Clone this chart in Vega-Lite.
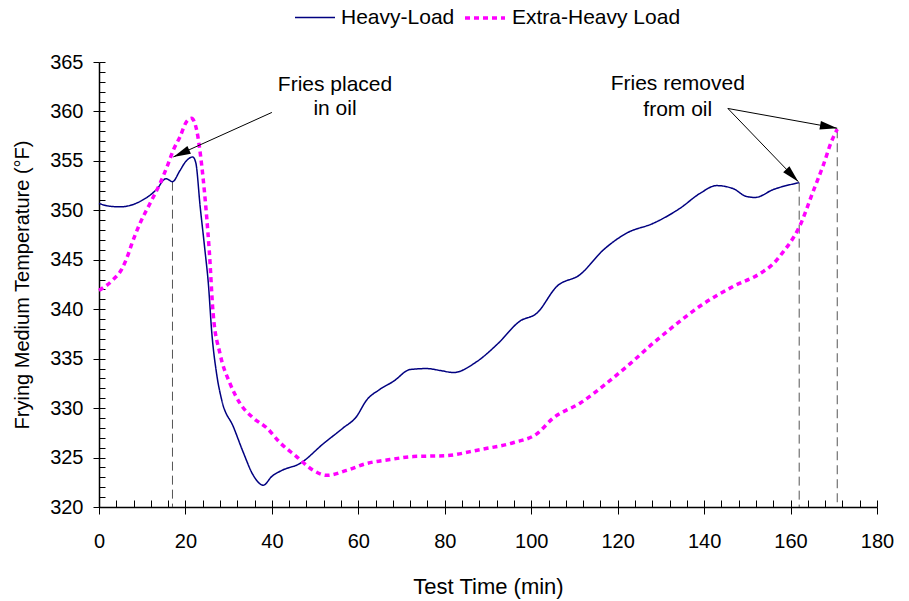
{
  "$schema": "https://vega.github.io/schema/vega-lite/v6.json",
  "width": 778,
  "height": 445,
  "autosize": {"type": "none"},
  "padding": {"left": 99, "top": 62, "right": 32, "bottom": 94},
  "background": "white",
  "config": {
    "view": {"stroke": null},
    "font": "Liberation Sans",
    "axis": {
      "labelFont": "Liberation Sans",
      "titleFont": "Liberation Sans",
      "labelColor": "black",
      "titleColor": "black",
      "titleFontWeight": "normal",
      "labelFontSize": 20,
      "titleFontSize": 20,
      "grid": false,
      "labelFlush": false,
      "labelOverlap": false,
      "tickColor": "black",
      "domainColor": "black"
    },
    "legend": {
      "labelFont": "Liberation Sans",
      "labelFontSize": 21,
      "labelColor": "black",
      "labelLimit": 0
    }
  },
  "datasets": {
    "curves": [
      {"series": "Heavy-Load", "t": 0, "temp": 350.7},
      {"series": "Heavy-Load", "t": 2, "temp": 350.45},
      {"series": "Heavy-Load", "t": 4.9, "temp": 350.35},
      {"series": "Heavy-Load", "t": 9.5, "temp": 350.9},
      {"series": "Heavy-Load", "t": 13.3, "temp": 352.1},
      {"series": "Heavy-Load", "t": 15.5, "temp": 353.2},
      {"series": "Heavy-Load", "t": 17, "temp": 352.9},
      {"series": "Heavy-Load", "t": 18.7, "temp": 354.0},
      {"series": "Heavy-Load", "t": 20, "temp": 354.9},
      {"series": "Heavy-Load", "t": 21, "temp": 355.3},
      {"series": "Heavy-Load", "t": 21.7, "temp": 355.4},
      {"series": "Heavy-Load", "t": 22.4, "temp": 354.8},
      {"series": "Heavy-Load", "t": 23.4, "temp": 350.4},
      {"series": "Heavy-Load", "t": 24.5, "temp": 346.0},
      {"series": "Heavy-Load", "t": 25.3, "temp": 342.6},
      {"series": "Heavy-Load", "t": 26.1, "temp": 337.6},
      {"series": "Heavy-Load", "t": 27.2, "temp": 333.5},
      {"series": "Heavy-Load", "t": 28.4, "temp": 330.8},
      {"series": "Heavy-Load", "t": 31.1, "temp": 328.1},
      {"series": "Heavy-Load", "t": 33.4, "temp": 325.5},
      {"series": "Heavy-Load", "t": 35.7, "temp": 323.2},
      {"series": "Heavy-Load", "t": 38, "temp": 322.2},
      {"series": "Heavy-Load", "t": 40, "temp": 323.1},
      {"series": "Heavy-Load", "t": 42.3, "temp": 323.7},
      {"series": "Heavy-Load", "t": 46.5, "temp": 324.4},
      {"series": "Heavy-Load", "t": 51.9, "temp": 326.4},
      {"series": "Heavy-Load", "t": 56.5, "temp": 328.0},
      {"series": "Heavy-Load", "t": 59.5, "temp": 329.1},
      {"series": "Heavy-Load", "t": 61.9, "temp": 330.8},
      {"series": "Heavy-Load", "t": 65, "temp": 331.9},
      {"series": "Heavy-Load", "t": 68.1, "temp": 332.7},
      {"series": "Heavy-Load", "t": 72, "temp": 333.9},
      {"series": "Heavy-Load", "t": 75.8, "temp": 334.0},
      {"series": "Heavy-Load", "t": 79, "temp": 333.8},
      {"series": "Heavy-Load", "t": 82, "temp": 333.6},
      {"series": "Heavy-Load", "t": 87.4, "temp": 334.7},
      {"series": "Heavy-Load", "t": 92, "temp": 336.4},
      {"series": "Heavy-Load", "t": 97.4, "temp": 338.8},
      {"series": "Heavy-Load", "t": 101.3, "temp": 339.6},
      {"series": "Heavy-Load", "t": 105.9, "temp": 342.3},
      {"series": "Heavy-Load", "t": 111.3, "temp": 343.5},
      {"series": "Heavy-Load", "t": 116.7, "temp": 346.0},
      {"series": "Heavy-Load", "t": 122.1, "temp": 347.7},
      {"series": "Heavy-Load", "t": 128.3, "temp": 348.7},
      {"series": "Heavy-Load", "t": 134.4, "temp": 350.2},
      {"series": "Heavy-Load", "t": 139, "temp": 351.7},
      {"series": "Heavy-Load", "t": 142.9, "temp": 352.5},
      {"series": "Heavy-Load", "t": 146.7, "temp": 352.2},
      {"series": "Heavy-Load", "t": 149.8, "temp": 351.4},
      {"series": "Heavy-Load", "t": 151.8, "temp": 351.3},
      {"series": "Heavy-Load", "t": 156, "temp": 352.1},
      {"series": "Heavy-Load", "t": 162, "temp": 352.8},
      {"series": "Extra-Heavy Load", "t": 0, "temp": 341.9},
      {"series": "Extra-Heavy Load", "t": 3.3, "temp": 343.0},
      {"series": "Extra-Heavy Load", "t": 5.2, "temp": 344.0},
      {"series": "Extra-Heavy Load", "t": 6.8, "temp": 345.6},
      {"series": "Extra-Heavy Load", "t": 7.5, "temp": 346.5},
      {"series": "Extra-Heavy Load", "t": 9.5, "temp": 348.7},
      {"series": "Extra-Heavy Load", "t": 11.8, "temp": 350.7},
      {"series": "Extra-Heavy Load", "t": 14.1, "temp": 352.7},
      {"series": "Extra-Heavy Load", "t": 16, "temp": 354.7},
      {"series": "Extra-Heavy Load", "t": 17.2, "temp": 356.1},
      {"series": "Extra-Heavy Load", "t": 18.7, "temp": 357.4},
      {"series": "Extra-Heavy Load", "t": 20.3, "temp": 359.0},
      {"series": "Extra-Heavy Load", "t": 21.4, "temp": 359.3},
      {"series": "Extra-Heavy Load", "t": 22.6, "temp": 358.1},
      {"series": "Extra-Heavy Load", "t": 23.8, "temp": 354.4},
      {"series": "Extra-Heavy Load", "t": 24.9, "temp": 349.4},
      {"series": "Extra-Heavy Load", "t": 25.5, "temp": 346.0},
      {"series": "Extra-Heavy Load", "t": 26.4, "temp": 339.6},
      {"series": "Extra-Heavy Load", "t": 28, "temp": 335.5},
      {"series": "Extra-Heavy Load", "t": 30.3, "temp": 332.5},
      {"series": "Extra-Heavy Load", "t": 32.6, "temp": 330.5},
      {"series": "Extra-Heavy Load", "t": 35.7, "temp": 329.0},
      {"series": "Extra-Heavy Load", "t": 38.8, "temp": 328.0},
      {"series": "Extra-Heavy Load", "t": 41.9, "temp": 326.5},
      {"series": "Extra-Heavy Load", "t": 45.7, "temp": 325.1},
      {"series": "Extra-Heavy Load", "t": 49.6, "temp": 323.7},
      {"series": "Extra-Heavy Load", "t": 52.7, "temp": 323.2},
      {"series": "Extra-Heavy Load", "t": 57.3, "temp": 323.7},
      {"series": "Extra-Heavy Load", "t": 61.9, "temp": 324.4},
      {"series": "Extra-Heavy Load", "t": 67.3, "temp": 324.8},
      {"series": "Extra-Heavy Load", "t": 72.7, "temp": 325.1},
      {"series": "Extra-Heavy Load", "t": 80.4, "temp": 325.2},
      {"series": "Extra-Heavy Load", "t": 88.1, "temp": 325.8},
      {"series": "Extra-Heavy Load", "t": 95.8, "temp": 326.5},
      {"series": "Extra-Heavy Load", "t": 101.3, "temp": 327.4},
      {"series": "Extra-Heavy Load", "t": 105.1, "temp": 329.0},
      {"series": "Extra-Heavy Load", "t": 111.3, "temp": 330.5},
      {"series": "Extra-Heavy Load", "t": 117.4, "temp": 332.5},
      {"series": "Extra-Heavy Load", "t": 122.9, "temp": 334.5},
      {"series": "Extra-Heavy Load", "t": 128.3, "temp": 336.6},
      {"series": "Extra-Heavy Load", "t": 133.3, "temp": 338.4},
      {"series": "Extra-Heavy Load", "t": 139, "temp": 340.3},
      {"series": "Extra-Heavy Load", "t": 146.7, "temp": 342.3},
      {"series": "Extra-Heavy Load", "t": 152.9, "temp": 343.6},
      {"series": "Extra-Heavy Load", "t": 156, "temp": 344.6},
      {"series": "Extra-Heavy Load", "t": 158.3, "temp": 345.8},
      {"series": "Extra-Heavy Load", "t": 160.6, "temp": 347.2},
      {"series": "Extra-Heavy Load", "t": 162, "temp": 348.3},
      {"series": "Extra-Heavy Load", "t": 165.3, "temp": 352.0},
      {"series": "Extra-Heavy Load", "t": 167.6, "temp": 354.6},
      {"series": "Extra-Heavy Load", "t": 169.5, "temp": 357.0},
      {"series": "Extra-Heavy Load", "t": 170.8, "temp": 358.2}
    ],
    "markers": [
      {"t": 17, "temp": 352.9},
      {"t": 162, "temp": 352.8},
      {"t": 170.8, "temp": 358.2}
    ],
    "arrows": [
      {"id": "placed", "t0": 40, "v0": 359.9, "t1": 17.2, "v1": 355.4},
      {"id": "removed1", "t0": 145.5, "v0": 360.3, "t1": 161.8, "v1": 352.9},
      {"id": "removed2", "t0": 145.5, "v0": 360.3, "t1": 170.8, "v1": 358.3}
    ],
    "notes": [
      {"label": "Fries placed", "t": 54.6, "temp": 362.7},
      {"label": "in oil", "t": 54.6, "temp": 360.2},
      {"label": "Fries removed", "t": 133.9, "temp": 362.8},
      {"label": "from oil", "t": 133.9, "temp": 360.1}
    ]
  },
  "layer": [
    {
      "data": {"name": "markers"},
      "mark": {"type": "rule", "color": "#555555", "strokeDash": [9, 5], "strokeWidth": 1},
      "encoding": {
        "x": {
          "field": "t", "type": "quantitative",
          "axis": {
            "orient": "bottom",
            "values": [0,4,8,12,16,20,24,28,32,36,40,44,48,52,56,60,64,68,72,76,80,84,88,92,96,100,104,108,112,116,120,124,128,132,136,140,144,148,152,156,160,164,168,172,176,180],
            "tickSize": -7, "labels": false, "domain": false, "title": null, "tickWidth": 1
          }
        },
        "y": {
          "field": "temp", "type": "quantitative",
          "axis": {
            "orient": "left",
            "values": [320,321,322,323,324,325,326,327,328,329,330,331,332,333,334,335,336,337,338,339,340,341,342,343,344,345,346,347,348,349,350,351,352,353,354,355,356,357,358,359,360,361,362,363,364,365],
            "tickSize": -6, "labels": false, "domain": false, "title": null, "tickWidth": 1
          }
        },
        "y2": {"datum": 320}
      }
    },
    {
      "data": {"name": "curves"},
      "mark": {"type": "line", "interpolate": "monotone"},
      "encoding": {
        "x": {
          "field": "t", "type": "quantitative",
          "scale": {"domain": [0, 180], "nice": false, "zero": false},
          "axis": {
            "orient": "bottom",
            "values": [0,20,40,60,80,100,120,140,160,180],
            "tickSize": 7, "tickWidth": 1, "domainWidth": 1.5,
            "labelPadding": 17, "title": "Test Time (min)", "titleFontSize": 22, "titlePadding": 25
          }
        },
        "y": {
          "field": "temp", "type": "quantitative",
          "scale": {"domain": [320, 365], "nice": false, "zero": false},
          "axis": {
            "orient": "left",
            "values": [320,325,330,335,340,345,350,355,360,365],
            "tickSize": 6, "tickWidth": 1, "domainWidth": 1.5,
            "labelPadding": 10, "title": "Frying Medium Temperature (°F)", "titlePadding": 17
          }
        },
        "color": {
          "field": "series", "type": "nominal",
          "scale": {"domain": ["Heavy-Load", "Extra-Heavy Load"], "range": ["#000080", "#FF00FF"]},
          "legend": {
            "title": null, "orient": "none", "direction": "horizontal",
            "legendX": 195, "legendY": -66, "symbolType": "stroke", "symbolSize": 1600,
            "labelOffset": 5, "columnPadding": 3, "padding": 0
          }
        },
        "strokeDash": {
          "field": "series", "type": "nominal",
          "scale": {"domain": ["Heavy-Load", "Extra-Heavy Load"], "range": [[1, 0], [5, 4]]},
          "legend": {
            "title": null, "orient": "none", "direction": "horizontal",
            "legendX": 195, "legendY": -66, "symbolType": "stroke", "symbolSize": 1600,
            "labelOffset": 5, "columnPadding": 3, "padding": 0
          }
        },
        "strokeWidth": {
          "field": "series", "type": "nominal",
          "scale": {"type": "ordinal", "domain": ["Heavy-Load", "Extra-Heavy Load"], "range": [1.5, 3.5]},
          "legend": {
            "title": null, "orient": "none", "direction": "horizontal",
            "legendX": 195, "legendY": -66, "symbolType": "stroke", "symbolSize": 1600,
            "labelOffset": 5, "columnPadding": 3, "padding": 0
          }
        }
      }
    },
    {
      "data": {"name": "arrows"},
      "mark": {"type": "rule", "color": "black", "strokeWidth": 1},
      "encoding": {
        "x": {"field": "t0", "type": "quantitative", "axis": null},
        "y": {"field": "v0", "type": "quantitative", "axis": null},
        "x2": {"field": "t1"},
        "y2": {"field": "v1"}
      }
    },
    {
      "data": {"name": "arrows"},
      "transform": [{"filter": "datum.id === 'placed'"}],
      "mark": {"type": "point", "shape": "M0,0L-0.5,2L0.5,2Z", "filled": true, "color": "black", "size": 300, "angle": 246, "opacity": 1},
      "encoding": {
        "x": {"field": "t1", "type": "quantitative", "axis": null},
        "y": {"field": "v1", "type": "quantitative", "axis": null}
      }
    },
    {
      "data": {"name": "arrows"},
      "transform": [{"filter": "datum.id === 'removed1'"}],
      "mark": {"type": "point", "shape": "M0,0L-0.5,2L0.5,2Z", "filled": true, "color": "black", "size": 300, "angle": 136, "opacity": 1},
      "encoding": {
        "x": {"field": "t1", "type": "quantitative", "axis": null},
        "y": {"field": "v1", "type": "quantitative", "axis": null}
      }
    },
    {
      "data": {"name": "arrows"},
      "transform": [{"filter": "datum.id === 'removed2'"}],
      "mark": {"type": "point", "shape": "M0,0L-0.5,2L0.5,2Z", "filled": true, "color": "black", "size": 300, "angle": 100, "opacity": 1},
      "encoding": {
        "x": {"field": "t1", "type": "quantitative", "axis": null},
        "y": {"field": "v1", "type": "quantitative", "axis": null}
      }
    },
    {
      "data": {"name": "notes"},
      "mark": {"type": "text", "font": "Liberation Sans", "fontSize": 21, "color": "black", "align": "center", "baseline": "middle"},
      "encoding": {
        "x": {"field": "t", "type": "quantitative", "axis": null},
        "y": {"field": "temp", "type": "quantitative", "axis": null},
        "text": {"field": "label"}
      }
    }
  ],
  "resolve": {"axis": {"x": "independent", "y": "independent"}}
}
